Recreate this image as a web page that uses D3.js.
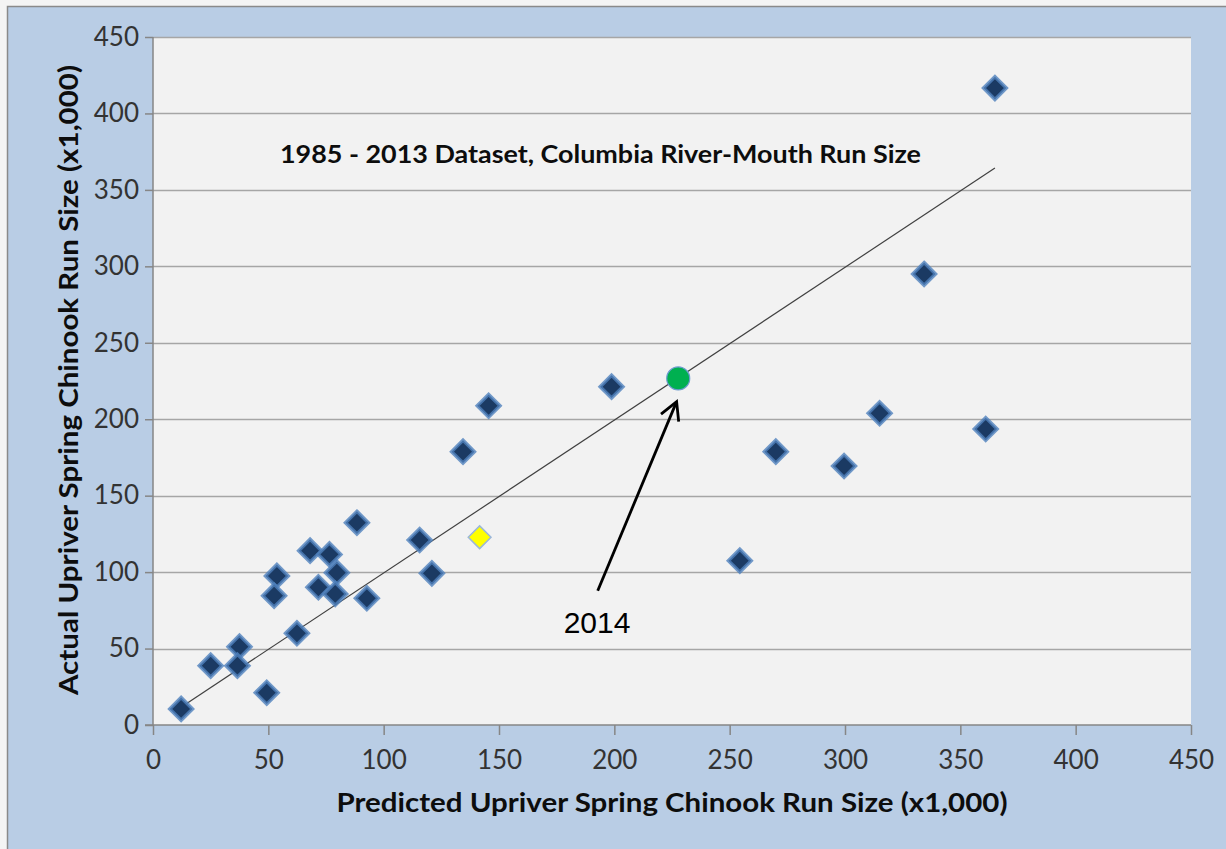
<!DOCTYPE html>
<html>
<head>
<meta charset="utf-8">
<script src="https://cdn.jsdelivr.net/npm/d3@7/dist/d3.min.js"></script>
<style>
  body { margin: 0; background: #f4f4f4; }
  svg { display: block; }
</style>
</head>
<body>
<div id="chart"></div>
<script>
// data (x1,000 fish)
const predicted = [12.2, 25.0, 37.5, 36.6, 49.3, 53.7, 52.5, 62.4, 68.1, 71.7, 76.5, 79.7, 79.0, 88.4,
  92.7, 115.6, 120.9, 134.4, 145.5, 198.8, 254.4, 270.0, 299.6, 315.0, 334.3, 361.0, 365.0];
const actual = [10.5, 38.8, 51.2, 38.8, 21.1, 97.5, 84.6, 60.0, 114.0, 90.1, 111.6, 99.6, 85.7, 132.3,
  82.9, 121.0, 99.2, 178.8, 208.8, 221.3, 107.5, 178.8, 169.4, 203.9, 295.0, 193.6, 416.6];
const highlight2013 = [141.6, 122.8];
const forecast2014 = [227.7, 226.7];
const trendX = [12, 365];
const trendY = [11.5, 364.3];
const arrowFrom = [192.8, 87.8];
const arrowTo = [227.0, 211.5];
const arrowLabel = "2014";
const labelAt = [192.5, 60.2];
const xTicks = [0, 50, 100, 150, 200, 250, 300, 350, 400, 450];
const yTicks = [0, 50, 100, 150, 200, 250, 300, 350, 400, 450];
const chartNote = "1985 - 2013 Dataset, Columbia River-Mouth Run Size";
const noteAt = [194, 367.5];
const xTitle = "Predicted Upriver Spring Chinook Run Size (x1,000)";
const yTitle = "Actual Upriver Spring Chinook Run Size (x1,000)";

var svgWidth = 1226;
var svgHeight = 849;
var plot = { left: 153, top: 37, right: 1191, bottom: 725 };

var svg = d3.select("#chart").append("svg")
  .attr("width", svgWidth)
  .attr("height", svgHeight);

// outer frame
svg.append("rect")
  .attr("x", 7.5).attr("y", 6.5)
  .attr("width", svgWidth + 10).attr("height", svgHeight + 10)
  .attr("fill", "#b9cde5")
  .attr("stroke", "#8a8a8a")
  .attr("stroke-width", 1.5);

// plot area
svg.append("rect")
  .attr("x", plot.left).attr("y", plot.top)
  .attr("width", plot.right - plot.left).attr("height", plot.bottom - plot.top)
  .attr("fill", "#f2f2f2");

var x = d3.scaleLinear().domain([0, 450]).range([plot.left, plot.right]);
var y = d3.scaleLinear().domain([0, 450]).range([plot.bottom, plot.top]);

// gridlines
svg.append("g")
  .selectAll("line")
  .data(yTicks.filter(d => d > 0))
  .enter()
  .append("line")
  .attr("x1", plot.left).attr("x2", plot.right)
  .attr("y1", d => Math.round(y(d)) + 0.5).attr("y2", d => Math.round(y(d)) + 0.5)
  .attr("stroke", "#a6a6a6")
  .attr("stroke-width", 1.5);

// axes
var leftAxis = d3.axisLeft(y).tickValues(yTicks).tickSize(8).tickPadding(6);
var bottomAxis = d3.axisBottom(x).tickValues(xTicks).tickSize(10).tickPadding(16);

var gy = svg.append("g")
  .attr("transform", `translate(${plot.left}, 0)`)
  .call(leftAxis);
var gx = svg.append("g")
  .attr("transform", `translate(0, ${plot.bottom})`)
  .call(bottomAxis);

[gx, gy].forEach(g => {
  g.attr("font-size", 26).attr("font-family", "Lato, 'Open Sans', sans-serif");
  g.select(".domain").attr("stroke", "#868686").attr("stroke-width", 1.5);
  g.selectAll(".tick line").attr("stroke", "#868686").attr("stroke-width", 1.5);
  g.selectAll(".tick text").attr("fill", "#333333");
});
gy.select(".domain").attr("d", `M-8,${plot.bottom}H0V${plot.top}`);
gx.select(".domain").attr("d", `M${plot.left},0H${plot.right}`);

// trend line
svg.append("line")
  .attr("x1", x(trendX[0])).attr("y1", y(trendY[0]))
  .attr("x2", x(trendX[1])).attr("y2", y(trendY[1]))
  .attr("stroke", "#404040")
  .attr("stroke-width", 1.2);

// diamonds
var points = predicted.map((p, i) => ({ px: p, py: actual[i] }));
var diamond = d3.symbol().type(d3.symbolDiamond2).size(330);

svg.append("g")
  .selectAll("path")
  .data(points)
  .enter()
  .append("path")
  .attr("d", diamond)
  .attr("transform", d => `translate(${x(d.px)}, ${y(d.py)})`)
  .attr("fill", "#1b3a63")
  .attr("stroke", "#4f81bd")
  .attr("stroke-opacity", 0.8)
  .attr("stroke-width", 3.5);

// 2013 point in yellow
svg.append("path")
  .attr("d", d3.symbol().type(d3.symbolDiamond2).size(330))
  .attr("transform", `translate(${x(highlight2013[0])}, ${y(highlight2013[1])})`)
  .attr("fill", "#ffff00")
  .attr("stroke", "#9bb7d9")
  .attr("stroke-width", 1.5);

// 2014 forecast
svg.append("circle")
  .attr("cx", x(forecast2014[0])).attr("cy", y(forecast2014[1]))
  .attr("r", 11.5)
  .attr("fill", "#00b050")
  .attr("stroke", "#6d9bcf")
  .attr("stroke-width", 1.2);

// arrow
var ax0 = x(arrowFrom[0]), ay0 = y(arrowFrom[1]);
var ax1 = x(arrowTo[0]), ay1 = y(arrowTo[1]);
var ang = Math.atan2(ay0 - ay1, ax0 - ax1);
var wing = 20, spread = Math.PI / 6.3;
svg.append("line")
  .attr("x1", ax0).attr("y1", ay0).attr("x2", ax1).attr("y2", ay1)
  .attr("stroke", "#000").attr("stroke-width", 2.8);
svg.append("path")
  .attr("d", `M${ax1 + wing * Math.cos(ang - spread)},${ay1 + wing * Math.sin(ang - spread)}`
    + `L${ax1},${ay1}L${ax1 + wing * Math.cos(ang + spread)},${ay1 + wing * Math.sin(ang + spread)}`)
  .attr("fill", "none")
  .attr("stroke", "#000").attr("stroke-width", 2.8)
  .attr("stroke-linejoin", "miter");

svg.append("text")
  .attr("x", x(labelAt[0])).attr("y", y(labelAt[1]))
  .attr("text-anchor", "middle")
  .style("font-family", "'Liberation Sans', Arial, sans-serif")
  .style("font-size", "30px")
  .attr("fill", "#000")
  .text(arrowLabel);

// titles
function boldText(txt, size, len) {
  return svg.append("text")
    .attr("text-anchor", "middle")
    .style("font-family", "Lato, 'Open Sans', sans-serif")
    .style("font-weight", "bold")
    .style("font-size", size + "px")
    .attr("fill", "#0d0d0d")
    .attr("textLength", len)
    .attr("lengthAdjust", "spacingAndGlyphs")
    .text(txt);
}

boldText(chartNote, 24, 641)
  .attr("x", x(noteAt[0])).attr("y", y(noteAt[1]));

boldText(xTitle, 27, 671)
  .attr("x", 672).attr("y", 812);

boldText(yTitle, 27, 630)
  .attr("transform", "translate(78, 380) rotate(-90)");
</script>
</body>
</html>
